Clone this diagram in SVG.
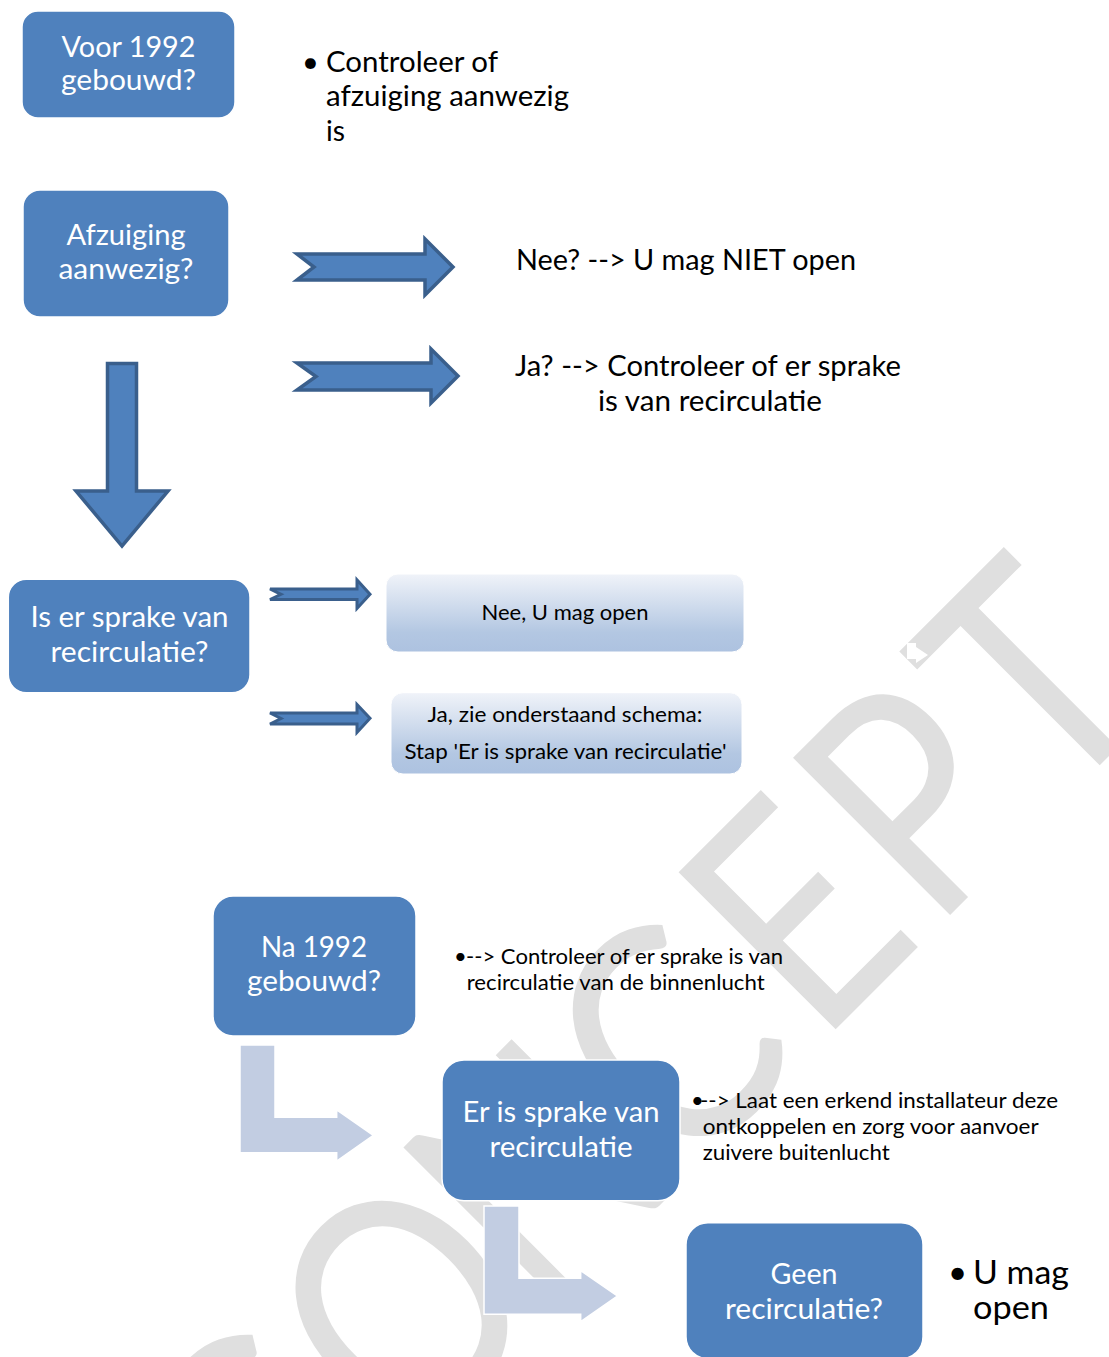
<svg xmlns="http://www.w3.org/2000/svg" width="1109" height="1357" viewBox="0 0 1109 1357">
<defs>
<style>
.t{font-family:Lato,"Liberation Sans",sans-serif}
.bx{fill:#4f81bd;stroke:#ffffff;stroke-width:1.5}
.bt{font-size:29px;fill:#ffffff;text-anchor:middle}
.lg{font-size:29px;fill:#000000}
.sm{font-size:22px;fill:#000000}
.big{font-size:33px;fill:#000000}
.arr{fill:#4f81bd;stroke:#3a5f8c;stroke-width:3.5;stroke-linejoin:miter}
.arrs{fill:#4f81bd;stroke:#3a5f8c;stroke-width:3;stroke-linejoin:miter}
.bent{fill:#c2cde2;stroke:#ffffff;stroke-width:1.5}
.lb{fill:url(#lbg);stroke:#ffffff;stroke-width:1}
.wm{font-family:Lato,"Liberation Sans",sans-serif;font-weight:400;font-size:310px;fill:#dfdfdf;text-anchor:middle}
</style>
<linearGradient id="lbg" x1="0" y1="0" x2="0" y2="1">
<stop offset="0" stop-color="#f0f3f9"/>
<stop offset="0.75" stop-color="#b3c7e2"/>
<stop offset="1" stop-color="#adc2e0"/>
</linearGradient>
</defs>
<rect width="1109" height="1357" fill="#ffffff"/>

<g id="watermark">
<text class="wm" transform="translate(932.5,932.5) rotate(-45) scale(0.85,1)"><tspan x="-994" y="0">C</tspan><tspan x="-753" y="0">O</tspan><tspan x="-529" y="0">N</tspan><tspan x="-312" y="0">C</tspan><tspan x="-100" y="0">E</tspan><tspan x="94" y="0">P</tspan><tspan x="293" y="0">T</tspan></text>
<polygon points="907,643 916,643 916,647 928,655 916,663 916,659 907,659" fill="#ffffff"/>
</g>

<g id="connectors">
<polygon class="arr" points="297,254 425,254 425,239 453,267 425,295 425,280 297,280 314,267"/>
<polygon class="arr" points="297,363 431,363 431,349 458,376 431,403 431,390 297,390 316,376.5"/>
<polygon class="arr" points="107.5,363.5 136.5,363.5 136.5,491 168,491 122,546 76,491 107.5,491"/>
<polygon class="arrs" points="270,589 357,589 357,580 370,594.3 357,608.5 357,599.5 270,599.5 281,594.3"/>
<polygon class="arrs" points="270,713 357,713 357,704.5 370,718.3 357,732.5 357,724 270,724 281,718.5"/>
<polygon class="bent" points="240,1045 275,1045 275,1117.3 336.7,1117.3 336.7,1110 373.3,1135.3 336.7,1161 336.7,1152.7 240,1152.7"/>
<polygon class="bent" points="484,1206 519,1206 519,1278.3 580.7,1278.3 580.7,1270.7 617.3,1296 580.7,1321.7 580.7,1314.3 484,1314.3"/>
</g>

<g id="node-voor1992">
<rect class="bx" x="22" y="11" width="213" height="107" rx="16"/>
<text class="t bt"><tspan x="128.5" y="57" textLength="134" lengthAdjust="spacingAndGlyphs">Voor 1992</tspan><tspan x="128.5" y="90" textLength="135" lengthAdjust="spacingAndGlyphs">gebouwd?</tspan></text>
</g>

<g id="note-controleer">
<text class="t lg" x="302" y="72">•</text>
<text class="t lg"><tspan x="326" y="72" textLength="172" lengthAdjust="spacingAndGlyphs">Controleer of</tspan><tspan x="326" y="106" textLength="243" lengthAdjust="spacingAndGlyphs">afzuiging aanwezig</tspan><tspan x="326" y="141" textLength="19" lengthAdjust="spacingAndGlyphs">is</tspan></text>
</g>

<g id="node-afzuiging">
<rect class="bx" x="23" y="190" width="206" height="127" rx="17"/>
<text class="t bt"><tspan x="126" y="245" textLength="119" lengthAdjust="spacingAndGlyphs">Afzuiging</tspan><tspan x="126" y="279" textLength="135" lengthAdjust="spacingAndGlyphs">aanwezig?</tspan></text>
</g>

<g id="note-nee">
<text class="t lg" x="516" y="270" textLength="340" lengthAdjust="spacingAndGlyphs">Nee? --&gt; U mag NIET open</text>
</g>

<g id="note-ja">
<text class="t lg" text-anchor="middle"><tspan x="708" y="376" textLength="386" lengthAdjust="spacingAndGlyphs">Ja? --&gt; Controleer of er sprake</tspan><tspan x="710" y="411" textLength="224" lengthAdjust="spacingAndGlyphs">is van recirculatie</tspan></text>
</g>

<g id="node-recirculatie-vraag">
<rect class="bx" x="8.3" y="579.3" width="241.7" height="113.4" rx="18"/>
<text class="t bt"><tspan x="129.5" y="627" textLength="198" lengthAdjust="spacingAndGlyphs">Is er sprake van</tspan><tspan x="129.5" y="662" textLength="158" lengthAdjust="spacingAndGlyphs">recirculatie?</tspan></text>
</g>

<g id="node-nee-open">
<rect class="lb" x="386" y="574" width="358" height="78" rx="12"/>
<text class="t sm" x="565" y="620" text-anchor="middle" textLength="167" lengthAdjust="spacingAndGlyphs">Nee, U mag open</text>
</g>

<g id="node-ja-schema">
<rect class="lb" x="391" y="692.7" width="351" height="81.3" rx="12"/>
<text class="t sm" text-anchor="middle"><tspan x="565" y="721.5" textLength="275" lengthAdjust="spacingAndGlyphs">Ja, zie onderstaand schema:</tspan><tspan x="565.5" y="758.5" textLength="322" lengthAdjust="spacingAndGlyphs">Stap 'Er is sprake van recirculatie'</tspan></text>
</g>

<g id="node-na1992">
<rect class="bx" x="213" y="896" width="203" height="140" rx="20"/>
<text class="t bt"><tspan x="314" y="957" textLength="106" lengthAdjust="spacingAndGlyphs">Na 1992</tspan><tspan x="314" y="991" textLength="134" lengthAdjust="spacingAndGlyphs">gebouwd?</tspan></text>
</g>

<g id="note-na1992">
<text class="t sm" x="454" y="963.5">•</text>
<text class="t sm"><tspan x="466" y="963.5" textLength="317" lengthAdjust="spacingAndGlyphs">--&gt; Controleer of er sprake is van</tspan><tspan x="466.7" y="990" textLength="298" lengthAdjust="spacingAndGlyphs">recirculatie van de binnenlucht</tspan></text>
</g>

<g id="node-er-is-recirculatie">
<rect class="bx" x="442" y="1060" width="238" height="140.7" rx="22"/>
<text class="t bt"><tspan x="561" y="1121.5" textLength="197" lengthAdjust="spacingAndGlyphs">Er is sprake van</tspan><tspan x="561" y="1156.5" textLength="143" lengthAdjust="spacingAndGlyphs">recirculatie</tspan></text>
</g>

<g id="note-installateur">
<text class="t sm" x="691" y="1108.3">•</text>
<text class="t sm"><tspan x="700" y="1108.3" textLength="358" lengthAdjust="spacingAndGlyphs">--&gt; Laat een erkend installateur deze</tspan><tspan x="702.7" y="1134" textLength="336" lengthAdjust="spacingAndGlyphs">ontkoppelen en zorg voor aanvoer</tspan><tspan x="702.7" y="1159.5" textLength="187" lengthAdjust="spacingAndGlyphs">zuivere buitenlucht</tspan></text>
</g>

<g id="node-geen-recirculatie">
<rect class="bx" x="686" y="1222.7" width="237" height="136" rx="22"/>
<text class="t bt"><tspan x="804" y="1284" textLength="67" lengthAdjust="spacingAndGlyphs">Geen</tspan><tspan x="804" y="1319.3" textLength="158" lengthAdjust="spacingAndGlyphs">recirculatie?</tspan></text>
</g>

<g id="note-mag-open">
<text class="t big" x="948" y="1284">•</text>
<text class="t big"><tspan x="973" y="1284" textLength="96" lengthAdjust="spacingAndGlyphs">U mag</tspan><tspan x="973" y="1319" textLength="76" lengthAdjust="spacingAndGlyphs">open</tspan></text>
</g>
</svg>
